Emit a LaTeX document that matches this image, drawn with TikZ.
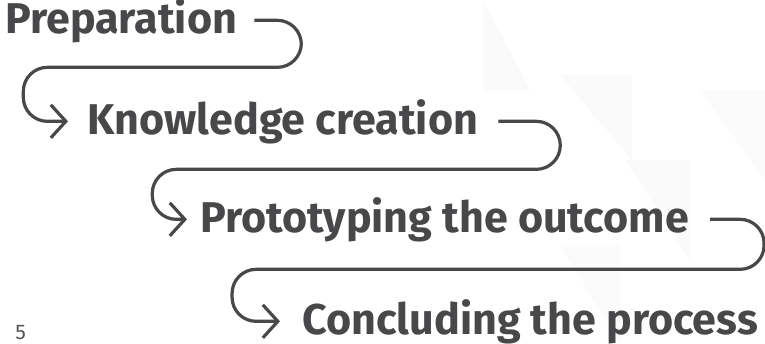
\documentclass[tikz,border=0pt]{standalone}
\usepackage{fontspec}
\setmainfont{Fira Sans}
\usepackage{tikz}
\usetikzlibrary{arrows.meta,positioning}
\pgfdeclarelayer{bg}
\pgfsetlayers{bg,main}
\definecolor{inkgray}{HTML}{48484A}
\definecolor{pagegray}{HTML}{555555}

\begin{document}
\begin{tikzpicture}[x=0.02cm, y=-0.02cm]
\tikzstyle{every node}=[font=\fontsize{24.5}{28}\selectfont\bfseries, text=inkgray]
\tikzset{
  steptext/.style={inner sep=0pt, anchor=base west},
  flowline/.style={draw=inkgray, line width=0.064cm, rounded corners=0.48cm,
    -{Straight Barb[length=0.3cm, width=0.66cm, line width=0.064cm]}}
}
\useasboundingbox (0,0) rectangle (765,343);

% faint background tiles
\begin{pgfonlayer}{bg}
\fill[black!2] (483,0) -- (483,90) -- (530,90) -- cycle;
\fill[black!2] (560,75) -- (632,75) -- (632,160) -- cycle;
\fill[black!2] (625,160) -- (690,160) -- (690,260) -- cycle;
\fill[black!1.5] (700,90) -- (765,90) -- (765,180) -- cycle;
\fill[black!1.5] (560,245) -- (620,245) -- (620,343) -- cycle;
\end{pgfonlayer}

\node[steptext] at (5,33) (prep) {Preparation};
\node[steptext] at (87,134) (know) {Knowledge creation};
\node[steptext] at (200,232) (proto) {Prototyping the outcome};
\node[steptext] at (302,334) (concl) {Concluding the process};

\node[anchor=base west, inner sep=0pt, font=\fontsize{12}{14}\selectfont, text=pagegray] at (15,339) (page) {5};

\draw[flowline, shorten >=0.38cm] ([xshift=0.34cm]prep.east) -- ++(47,0) |- ++(-278,47) |- (know.west);
\draw[flowline, shorten >=0.26cm] ([xshift=0.4cm]know.east) -- ++(62,0) |- ++(-408,48) |- (proto.west);
\draw[flowline, shorten >=0.44cm] ([xshift=0.42cm]proto.east) -- ++(54,0) |- ++(-532,50) |- (concl.west);

\end{tikzpicture}
\end{document}
